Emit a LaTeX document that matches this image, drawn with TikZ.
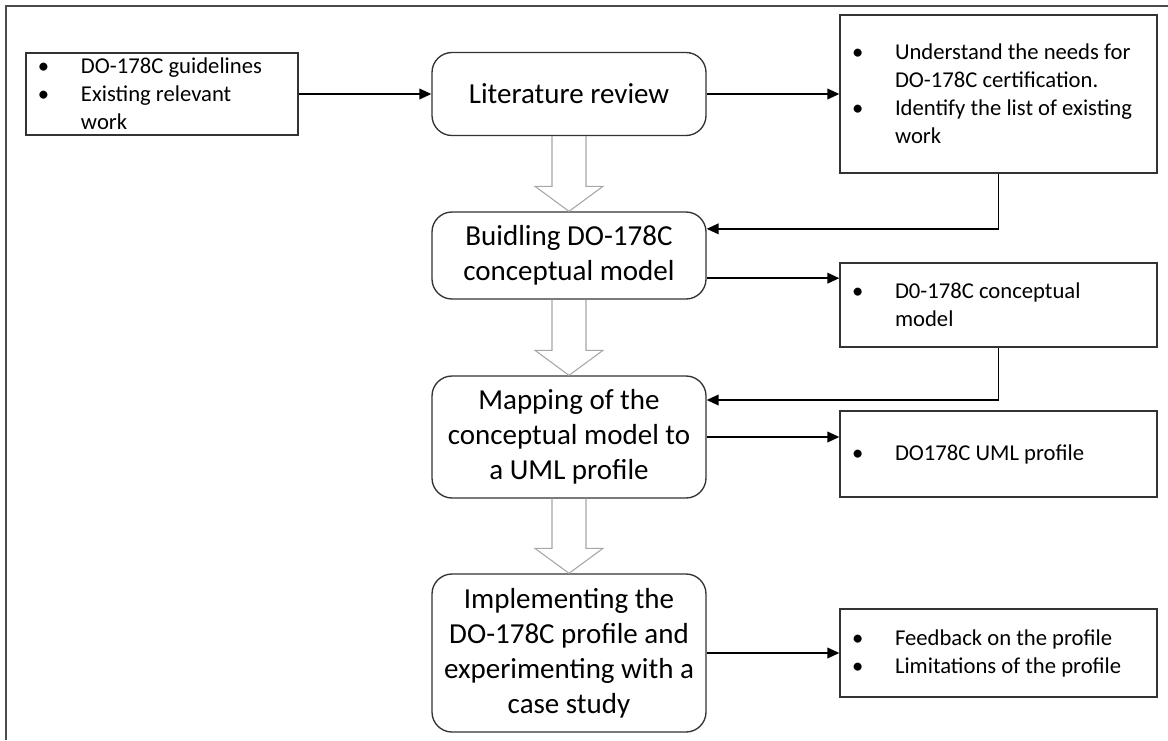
\documentclass[tikz,border=0pt]{standalone}
\usepackage{fontspec}
\setmainfont{Carlito}
\usetikzlibrary{arrows.meta,calc}
\newcommand\bl{\makebox[41.25pt][l]{\hspace*{9pt}\textbullet}}
\newcommand\ind{\hspace*{41.25pt}}
\newcommand\hollowarrow[2]{%
  \draw[hollow] ($(#1.south)+(-17,0)$) -- ($(#2.north)+(-17,-25)$) -- ($(#2.north)+(-34,-25)$)
    -- (#2.north) -- ($(#2.north)+(34,-25)$) -- ($(#2.north)+(17,-25)$) -- ($(#1.south)+(17,0)$);}
\tikzset{
  mainbox/.style={draw=black!80, line width=1pt, rounded corners=15pt, align=center,
    minimum width=205.5pt, inner sep=0pt, font=\fontsize{21.75pt}{26.25pt}\selectfont},
  lstbox/.style={draw=black!80, line width=1pt, text width=#1, align=flush left,
    inner xsep=0pt, inner ysep=0pt, font=\fontsize{17pt}{21pt}\selectfont},
  arr/.style={-{Triangle[length=9pt,width=8pt]}, line width=1.2pt, black},
  hollow/.style={draw=black!35, line width=0.8pt},
  frame/.style={draw=black!70, line width=1pt}
}
\begin{document}
\begin{tikzpicture}[x=0.75pt,y=-0.75pt]
\useasboundingbox (0,0) rectangle (1168,740);
\draw[frame] (6,740) -- (6,6) -- (1168,6);

% main column
\node[mainbox, minimum height=62.25pt] (lit) at (569,94) {Literature review};
\node[mainbox, minimum height=65.25pt] (bld) at (569,255.5) {Buidling DO-178C\\conceptual model};
\node[mainbox, minimum height=91.5pt] (map) at (569,437) {Mapping of the\\conceptual model to\\a UML profile};
\node[mainbox, minimum height=118.5pt] (imp) at (569,653) {Implementing the\\DO-178C profile and\\experimenting with a\\case study};

% input
\node[lstbox=204pt, minimum height=61.5pt] (inp) at (162,94) {\bl DO-178C guidelines\\\bl Existing relevant\\\ind work};

% outputs
\node[lstbox=237.75pt, minimum height=118.5pt] (o1) at (998.5,94) {\bl Understand the needs for\\\ind DO-178C certification.\\\bl Identify the list of existing\\\ind work};
\node[lstbox=237.75pt, minimum height=63pt] (o2) at (998.5,305) {\bl D0-178C conceptual\\\ind model};
\node[lstbox=237.75pt, minimum height=64.5pt] (o3) at (998.5,454) {\bl DO178C UML profile};
\node[lstbox=237.75pt, minimum height=66pt] (o4) at (998.5,653) {\bl Feedback on the profile\\\bl Limitations of the profile};

% connectors
\draw[arr] (inp.east) -- (inp.east -| lit.west);
\draw[arr] (lit.east) -- (lit.east -| o1.west);
\draw[arr] (o1.south) |- ([yshift=20pt]bld.east);
\coordinate (b1) at ([yshift=-17pt]bld.east);
\draw[arr] (b1) -- (b1 -| o2.west);
\draw[arr] (o2.south) |- ([yshift=27.75pt]map.east);
\draw[arr] (map.east) -- (map.east -| o3.west);
\draw[arr] (imp.east) -- (imp.east -| o4.west);

% hollow arrows
\hollowarrow{lit}{bld}
\hollowarrow{bld}{map}
\hollowarrow{map}{imp}
\end{tikzpicture}
\end{document}
